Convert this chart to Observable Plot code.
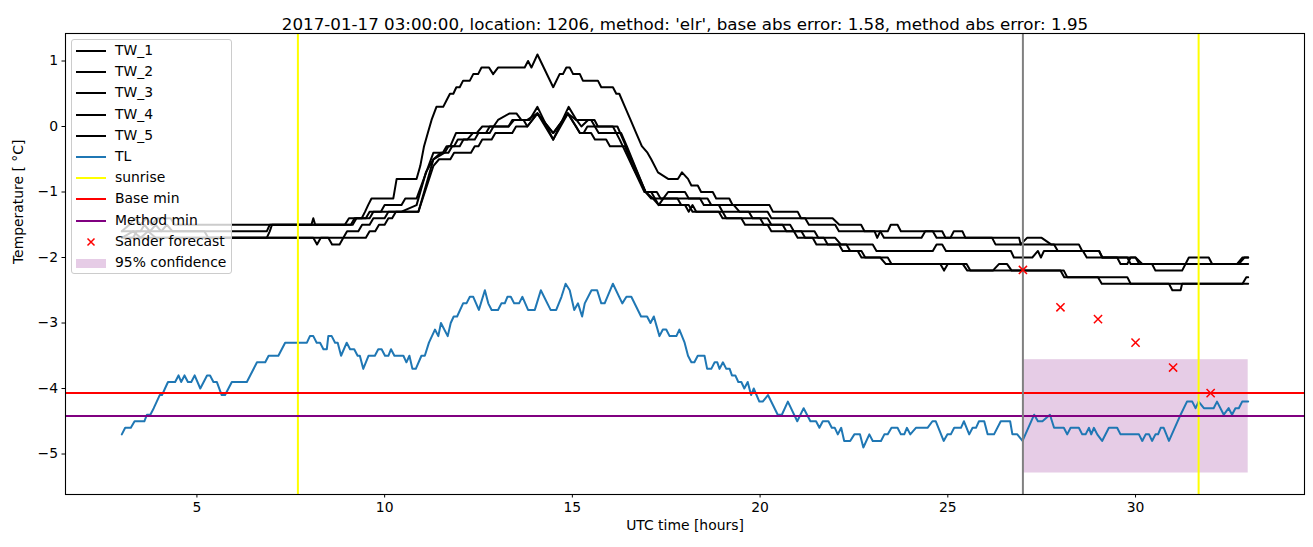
<!DOCTYPE html>
<html>
<head>
<meta charset="utf-8">
<script src="https://cdn.jsdelivr.net/npm/d3@7"></script>
<script src="https://cdn.jsdelivr.net/npm/@observablehq/plot@0.6"></script>
<style>
  body { margin: 0; background: white; font-family: "DejaVu Sans", sans-serif; }
  #wrap { position: relative; width: 1313px; height: 547px; }
  #legend { position: absolute; left: 71px; top: 39px; width: 161px; height: 235px;
    background: rgba(255,255,255,0.8); border: 1px solid #cccccc; border-radius: 3px; box-sizing: border-box; }
  .row { position: absolute; left: 0; height: 20px; width: 160px; font-size: 13.9px; color: black; }
  .row span { position: absolute; left: 43px; top: 1px; white-space: nowrap; }
  .row svg { position: absolute; left: 3px; top: 0; }
</style>
</head>
<body>
<div id="wrap"><div id="legend"></div></div>
<script>
// ---- data ----
const titleText = "2017-01-17 03:00:00, location: 1206, method: 'elr', base abs error: 1.58, method abs error: 1.95";
const xLabel = "UTC time [hours]";
const yLabel = "Temperature [ °C]";
const xTicks = [5, 10, 15, 20, 25, 30];
const yTicks = [-5, -4, -3, -2, -1, 0, 1];

const tw1 = [[3.0,-1.6],[3.2,-1.5],[3.35,-1.4],[3.5,-1.5],[3.65,-1.4],[3.8,-1.5],[3.95,-1.4],[4.3,-1.4],[4.4,-1.5],[8.05,-1.5],[8.1,-1.4],[8.15,-1.5],[8.94,-1.5],[9.05,-1.4],[9.39,-1.4],[9.48,-1.3],[9.56,-1.2],[9.65,-1.1],[10.23,-1.1],[10.32,-0.8],[10.85,-0.8],[10.95,-0.6],[11.05,-0.3],[11.15,-0.1],[11.25,0.1],[11.38,0.3],[11.56,0.3],[11.65,0.4],[11.74,0.5],[11.83,0.5],[11.91,0.6],[12.0,0.6],[12.09,0.7],[12.27,0.7],[12.36,0.8],[12.49,0.8],[12.58,0.9],[12.78,0.9],[12.89,0.8],[13.02,0.9],[13.73,0.9],[13.82,1.0],[13.91,0.9],[14.07,1.1],[14.49,0.6],[14.66,0.8],[14.75,0.8],[14.84,0.9],[14.93,0.9],[15.02,0.8],[15.2,0.8],[15.28,0.7],[15.68,0.7],[15.77,0.6],[16.08,0.6],[16.17,0.5],[16.25,0.5],[16.4,0.3],[16.55,0.1],[16.7,-0.1],[16.85,-0.3],[17.0,-0.4],[17.1,-0.5],[17.28,-0.7],[17.55,-0.8],[17.81,-0.8],[17.92,-0.7],[18.08,-0.8],[18.17,-0.9],[18.34,-0.9],[18.43,-1.0],[18.74,-1.0],[18.83,-1.1],[19.18,-1.1],[19.27,-1.2],[20.25,-1.2],[20.34,-1.3],[21.0,-1.3],[21.09,-1.4],[21.93,-1.4],[22.11,-1.5],[22.69,-1.5],[22.78,-1.6],[23.05,-1.6],[23.12,-1.7],[23.2,-1.6],[23.4,-1.6],[23.48,-1.5],[23.66,-1.5],[23.75,-1.6],[24.85,-1.6],[24.94,-1.7],[25.07,-1.7],[25.16,-1.6],[25.39,-1.6],[25.47,-1.7],[26.18,-1.7],[26.27,-1.8],[26.94,-1.8],[27.11,-1.7],[27.5,-1.7],[27.75,-1.8],[28.49,-1.8],[28.58,-1.9],[29.03,-1.9],[29.12,-2.0],[29.51,-2.0],[29.6,-2.1],[29.78,-2.1],[29.87,-2.0],[30.0,-2.0],[30.18,-2.1],[30.44,-2.1],[30.53,-2.2],[31.24,-2.2],[31.42,-2.0],[31.95,-2.0],[32.04,-2.1],[33.0,-2.1]];
const tw2 = [[3.0,-1.6],[3.5,-1.6],[3.6,-1.5],[3.75,-1.6],[3.9,-1.5],[4.05,-1.6],[4.2,-1.5],[4.35,-1.6],[6.86,-1.6],[6.94,-1.5],[9.1,-1.5],[9.2,-1.4],[9.5,-1.4],[9.6,-1.3],[9.9,-1.3],[10.0,-1.2],[10.45,-1.2],[10.55,-1.1],[10.85,-1.1],[11.3,-0.4],[11.55,-0.4],[11.65,-0.3],[11.75,-0.3],[11.9,-0.1],[12.45,-0.1],[12.6,0.0],[12.9,0.0],[13.02,0.1],[13.33,0.2],[13.51,0.2],[13.64,0.1],[13.86,0.1],[14.07,0.3],[14.49,-0.2],[14.9,0.3],[15.11,0.1],[15.24,0.0],[15.42,0.1],[15.59,0.1],[15.68,0.0],[16.08,0.0],[16.26,-0.2],[16.92,-1.0],[17.1,-1.0],[17.2,-1.1],[17.3,-1.2],[17.42,-1.1],[17.55,-1.0],[18.0,-1.0],[18.1,-1.1],[18.6,-1.1],[18.7,-1.2],[19.3,-1.2],[19.45,-1.3],[20.2,-1.3],[20.3,-1.4],[21.2,-1.4],[21.3,-1.5],[22.0,-1.5],[22.1,-1.6],[23.2,-1.6],[23.3,-1.7],[24.3,-1.7],[24.4,-1.6],[24.6,-1.6],[24.7,-1.7],[26.9,-1.7],[26.94,-1.8],[27.83,-1.8],[27.93,-1.9],[28.6,-1.9],[28.7,-2.0],[30.0,-2.0],[30.1,-2.1],[32.7,-2.1],[32.85,-2.0],[33.0,-2.0]];
const tw3 = [[3.0,-1.7],[3.3,-1.7],[3.4,-1.6],[5.2,-1.6],[5.3,-1.7],[6.86,-1.7],[6.94,-1.6],[7.0,-1.5],[9.15,-1.5],[9.25,-1.4],[9.6,-1.4],[9.7,-1.3],[10.45,-1.3],[10.85,-1.2],[11.1,-0.7],[11.3,-0.5],[11.5,-0.4],[11.7,-0.4],[11.8,-0.3],[12.0,-0.3],[12.1,-0.2],[12.4,-0.2],[12.5,-0.1],[12.8,-0.1],[12.9,0.0],[13.3,0.0],[13.4,0.1],[13.7,0.1],[13.8,0.0],[14.07,0.2],[14.49,-0.1],[14.88,0.2],[15.1,0.0],[15.2,-0.1],[15.3,-0.1],[15.4,0.0],[15.6,0.0],[15.7,-0.1],[16.3,-0.1],[16.45,-0.3],[16.95,-1.0],[17.1,-1.1],[17.8,-1.1],[17.9,-1.2],[18.1,-1.2],[18.2,-1.3],[19.0,-1.3],[19.1,-1.4],[20.0,-1.4],[20.1,-1.5],[20.8,-1.5],[20.9,-1.6],[21.45,-1.6],[21.55,-1.7],[22.0,-1.7],[22.15,-1.8],[23.0,-1.8],[23.1,-1.9],[24.6,-1.9],[24.7,-1.8],[24.85,-1.8],[24.95,-1.9],[26.68,-1.9],[26.76,-2.0],[27.25,-2.0],[27.4,-1.9],[27.48,-2.0],[27.56,-1.9],[29.03,-1.9],[29.11,-2.0],[29.78,-2.0],[29.87,-2.1],[32.75,-2.1],[32.9,-2.0],[33.0,-2.0]];
const tw4 = [[3.0,-1.7],[8.1,-1.7],[8.2,-1.8],[8.3,-1.7],[8.5,-1.7],[8.6,-1.8],[8.8,-1.8],[8.9,-1.7],[9.5,-1.7],[9.6,-1.6],[9.75,-1.6],[9.85,-1.5],[10.0,-1.5],[10.1,-1.4],[10.2,-1.4],[10.3,-1.3],[10.9,-1.3],[11.3,-0.6],[11.45,-0.5],[11.75,-0.5],[11.85,-0.4],[12.3,-0.4],[12.4,-0.3],[12.5,-0.3],[12.6,-0.2],[12.85,-0.2],[12.95,-0.1],[13.4,-0.1],[13.5,0.0],[13.8,0.0],[14.07,0.2],[14.49,-0.2],[14.88,0.2],[15.2,-0.1],[15.5,-0.1],[15.6,-0.2],[15.9,-0.2],[16.0,-0.3],[16.4,-0.3],[16.6,-0.6],[16.95,-1.0],[17.15,-1.1],[17.3,-1.2],[18.0,-1.2],[18.1,-1.3],[18.2,-1.2],[18.3,-1.3],[18.9,-1.3],[19.0,-1.4],[19.5,-1.4],[19.6,-1.5],[20.2,-1.5],[20.3,-1.6],[20.9,-1.6],[21.0,-1.7],[21.4,-1.7],[21.5,-1.8],[22.3,-1.8],[22.4,-1.9],[22.6,-1.9],[22.7,-2.0],[23.2,-2.0],[23.35,-2.1],[24.8,-2.1],[24.9,-2.2],[25.0,-2.1],[25.5,-2.1],[25.6,-2.2],[28.09,-2.2],[28.18,-2.3],[29.78,-2.3],[29.87,-2.4],[30.89,-2.4],[30.98,-2.5],[31.2,-2.5],[31.24,-2.4],[33.0,-2.4]];
const tw5 = [[3.0,-1.7],[3.3,-1.6],[3.5,-1.7],[3.7,-1.6],[3.9,-1.7],[8.9,-1.7],[9.0,-1.6],[9.3,-1.6],[9.4,-1.5],[9.6,-1.5],[9.7,-1.4],[10.0,-1.4],[10.1,-1.3],[10.9,-1.3],[11.3,-0.5],[11.6,-0.4],[11.7,-0.3],[11.85,-0.3],[11.95,-0.2],[12.2,-0.2],[12.35,-0.1],[12.7,-0.1],[12.8,0.0],[13.3,0.0],[13.45,0.1],[13.8,0.1],[14.07,0.2],[14.49,-0.1],[14.88,0.2],[15.1,0.1],[15.5,0.1],[15.6,0.0],[16.2,0.0],[16.35,-0.2],[16.95,-1.0],[17.25,-1.0],[17.35,-1.1],[18.4,-1.1],[18.5,-1.2],[18.9,-1.2],[19.0,-1.3],[19.7,-1.3],[19.8,-1.4],[20.2,-1.4],[20.3,-1.5],[20.6,-1.5],[20.7,-1.6],[21.1,-1.6],[21.2,-1.7],[21.7,-1.7],[21.8,-1.8],[22.1,-1.8],[22.2,-1.9],[22.7,-1.9],[22.8,-2.0],[23.4,-2.0],[23.5,-2.1],[25.4,-2.1],[25.52,-2.2],[26.2,-2.2],[26.36,-2.1],[26.58,-2.1],[26.7,-2.2],[28.0,-2.2],[28.1,-2.3],[29.0,-2.3],[29.1,-2.4],[32.85,-2.4],[32.95,-2.3],[33.0,-2.3]];

const tl = [[3.0,-4.7],[3.09,-4.6],[3.24,-4.6],[3.34,-4.5],[3.6,-4.5],[3.67,-4.4],[3.76,-4.4],[3.85,-4.3],[3.93,-4.2],[4.01,-4.1],[4.07,-4.1],[4.15,-4.0],[4.23,-3.9],[4.42,-3.9],[4.51,-3.8],[4.58,-3.9],[4.67,-3.8],[4.76,-3.9],[4.85,-3.9],[4.94,-3.8],[5.09,-4.0],[5.27,-3.8],[5.35,-3.8],[5.44,-3.9],[5.53,-3.9],[5.66,-4.1],[5.75,-4.1],[5.93,-3.9],[6.33,-3.9],[6.6,-3.6],[6.82,-3.6],[6.91,-3.5],[7.17,-3.5],[7.35,-3.3],[7.93,-3.3],[8.01,-3.2],[8.1,-3.2],[8.19,-3.3],[8.28,-3.3],[8.37,-3.4],[8.46,-3.4],[8.5,-3.2],[8.59,-3.2],[8.68,-3.3],[8.75,-3.3],[8.84,-3.5],[8.99,-3.3],[9.08,-3.4],[9.19,-3.4],[9.28,-3.5],[9.34,-3.5],[9.43,-3.7],[9.57,-3.5],[9.74,-3.5],[9.83,-3.4],[9.92,-3.4],[10.01,-3.5],[10.1,-3.5],[10.17,-3.4],[10.26,-3.5],[10.5,-3.5],[10.58,-3.6],[10.66,-3.5],[10.74,-3.7],[10.83,-3.7],[10.98,-3.5],[11.07,-3.5],[11.18,-3.3],[11.34,-3.1],[11.43,-3.2],[11.5,-3.0],[11.68,-3.2],[11.76,-3.0],[11.84,-2.9],[11.93,-2.9],[12.09,-2.7],[12.18,-2.7],[12.27,-2.6],[12.36,-2.6],[12.51,-2.8],[12.67,-2.5],[12.76,-2.7],[12.85,-2.8],[13.02,-2.8],[13.11,-2.7],[13.2,-2.7],[13.27,-2.6],[13.36,-2.6],[13.45,-2.7],[13.58,-2.7],[13.67,-2.6],[13.82,-2.8],[14.0,-2.8],[14.16,-2.5],[14.42,-2.8],[14.57,-2.8],[14.71,-2.6],[14.82,-2.4],[14.93,-2.5],[15.05,-2.8],[15.15,-2.7],[15.26,-2.9],[15.33,-2.7],[15.51,-2.5],[15.66,-2.5],[15.77,-2.7],[15.86,-2.7],[16.08,-2.4],[16.33,-2.7],[16.44,-2.6],[16.57,-2.6],[16.83,-2.9],[16.99,-2.9],[17.08,-3.0],[17.17,-2.9],[17.32,-3.2],[17.41,-3.1],[17.5,-3.1],[17.59,-3.2],[17.77,-3.2],[17.85,-3.1],[17.99,-3.3],[18.08,-3.5],[18.17,-3.6],[18.25,-3.6],[18.34,-3.5],[18.52,-3.5],[18.59,-3.7],[18.7,-3.7],[18.79,-3.6],[18.86,-3.6],[18.92,-3.7],[19.01,-3.6],[19.1,-3.7],[19.19,-3.7],[19.25,-3.8],[19.34,-3.8],[19.42,-3.9],[19.5,-3.9],[19.58,-4.0],[19.67,-3.9],[19.76,-4.1],[19.83,-4.0],[19.98,-4.2],[20.07,-4.2],[20.21,-4.1],[20.47,-4.4],[20.58,-4.4],[20.74,-4.2],[20.99,-4.5],[21.16,-4.3],[21.34,-4.5],[21.49,-4.5],[21.58,-4.6],[21.67,-4.5],[21.82,-4.5],[21.91,-4.6],[21.99,-4.6],[22.07,-4.7],[22.16,-4.6],[22.24,-4.8],[22.4,-4.8],[22.51,-4.7],[22.66,-4.7],[22.75,-4.9],[22.91,-4.7],[23.0,-4.8],[23.22,-4.8],[23.31,-4.7],[23.4,-4.7],[23.5,-4.6],[23.66,-4.6],[23.75,-4.7],[23.84,-4.7],[23.91,-4.6],[24.0,-4.7],[24.15,-4.6],[24.46,-4.6],[24.59,-4.5],[24.68,-4.5],[24.89,-4.8],[24.99,-4.7],[25.08,-4.7],[25.17,-4.6],[25.35,-4.6],[25.43,-4.5],[25.57,-4.7],[25.66,-4.6],[25.75,-4.6],[25.83,-4.5],[25.97,-4.5],[26.06,-4.7],[26.23,-4.7],[26.41,-4.5],[26.66,-4.5],[26.72,-4.7],[26.85,-4.7],[26.99,-4.8],[27.3,-4.4],[27.4,-4.5],[27.52,-4.5],[27.72,-4.4],[27.83,-4.6],[28.09,-4.6],[28.18,-4.7],[28.27,-4.6],[28.49,-4.6],[28.58,-4.7],[28.67,-4.7],[28.76,-4.6],[28.82,-4.7],[28.89,-4.6],[28.98,-4.7],[29.11,-4.8],[29.29,-4.6],[29.51,-4.6],[29.6,-4.7],[30.09,-4.7],[30.18,-4.8],[30.27,-4.7],[30.36,-4.7],[30.44,-4.8],[30.53,-4.7],[30.6,-4.7],[30.67,-4.6],[30.75,-4.6],[30.89,-4.8],[31.2,-4.4],[31.37,-4.2],[31.51,-4.2],[31.6,-4.3],[31.68,-4.2],[31.82,-4.3],[32.08,-4.3],[32.17,-4.2],[32.35,-4.4],[32.48,-4.3],[32.57,-4.4],[32.66,-4.3],[32.75,-4.3],[32.84,-4.2],[33.0,-4.2]];

const sunrise = [7.69, 31.68];
const forecastStart = [27.0];
const baseMin = [-4.07];
const methodMin = [-4.42];
const forecastHours = [27, 28, 29, 30, 31, 32];
const forecastTemps = [-2.19, -2.76, -2.94, -3.30, -3.68, -4.07];
const confHours = [27, 33];
const confTemps = [-5.29, -3.56];

const twSeries = [tw1, tw2, tw3, tw4, tw5];
const twNames = ["TW_1", "TW_2", "TW_3", "TW_4", "TW_5"];

// ---- chart ----
const minus = d => (d < 0 ? "\u2212" + (-d) : String(d));
const forecast = forecastHours.map((h, i) => ({h, t: forecastTemps[i]}));
const conf = [{x1: confHours[0], x2: confHours[1], y1: confTemps[0], y2: confTemps[1]}];
const LW = 2;

const marks = [
  Plot.rect(conf, {x1: "x1", x2: "x2", y1: "y1", y2: "y2", fill: "purple", fillOpacity: 0.2})
];
twSeries.forEach(s => marks.push(Plot.line(s, {x: d => d[0], y: d => d[1], stroke: "black", strokeWidth: LW})));
marks.push(
  Plot.line(tl, {x: d => d[0], y: d => d[1], stroke: "#1f77b4", strokeWidth: LW}),
  Plot.ruleX(sunrise, {stroke: "yellow", strokeWidth: LW}),
  Plot.ruleY(baseMin, {stroke: "red", strokeWidth: LW}),
  Plot.ruleY(methodMin, {stroke: "purple", strokeWidth: LW}),
  Plot.ruleX(forecastStart, {stroke: "gray", strokeWidth: LW}),
  Plot.dot(forecast, {x: "h", y: "t", symbol: "times", stroke: "red", strokeWidth: 1.5, r: 3.8}),
  Plot.axisX({ticks: xTicks, tickFormat: minus, tickSize: 3.5, tickPadding: 4, label: null, fontSize: 13.9}),
  Plot.axisY({ticks: yTicks, tickFormat: minus, tickSize: 3.5, tickPadding: 4, label: null, fontSize: 13.9}),
  Plot.frame({stroke: "black", strokeWidth: 1.1}),
  Plot.text([titleText], {text: d => d, frameAnchor: "top", dy: -15, fontSize: 16.7}),
  Plot.text([xLabel], {text: d => d, frameAnchor: "bottom", dy: 35, fontSize: 13.9}),
  Plot.text([yLabel], {text: d => d, frameAnchor: "left", dx: -47, rotate: -90, fontSize: 13.9})
);

const chart = Plot.plot({
  width: 1313, height: 547,
  marginLeft: 65, marginRight: 9, marginTop: 33, marginBottom: 53,
  style: {fontFamily: "DejaVu Sans", fontSize: "13.9px", background: "white", color: "black", overflow: "visible"},
  x: {domain: [1.5, 34.5]},
  y: {domain: [-5.618, 1.42]},
  marks
});
const wrap = document.getElementById("wrap");
wrap.insertBefore(chart, wrap.firstChild);

// ---- legend ----
const legendItems = [
  ...twNames.map(n => ({label: n, type: "line", color: "black"})),
  {label: "TL", type: "line", color: "#1f77b4"},
  {label: "sunrise", type: "line", color: "yellow"},
  {label: "Base min", type: "line", color: "red"},
  {label: "Method min", type: "line", color: "purple"},
  {label: "Sander forecast", type: "x", color: "red"},
  {label: "95% confidence", type: "patch", color: "rgba(128,0,128,0.2)"}
];
const legend = document.getElementById("legend");
legendItems.forEach((it, i) => {
  const row = document.createElement("div");
  row.className = "row";
  row.style.top = (1 + i * 21.2) + "px";
  let g = "";
  if (it.type === "line") g = `<line x1="1" x2="31" y1="10" y2="10" stroke="${it.color}" stroke-width="2"/>`;
  else if (it.type === "x") g = `<path d="M12.5,6.5L19.5,13.5M19.5,6.5L12.5,13.5" stroke="${it.color}" stroke-width="1.5"/>`;
  else g = `<rect x="1" y="6" width="30" height="9" fill="${it.color}"/>`;
  row.innerHTML = `<svg width="34" height="20">${g}</svg><span>${it.label}</span>`;
  legend.appendChild(row);
});
wrap.appendChild(legend);
</script>
</body>
</html>
